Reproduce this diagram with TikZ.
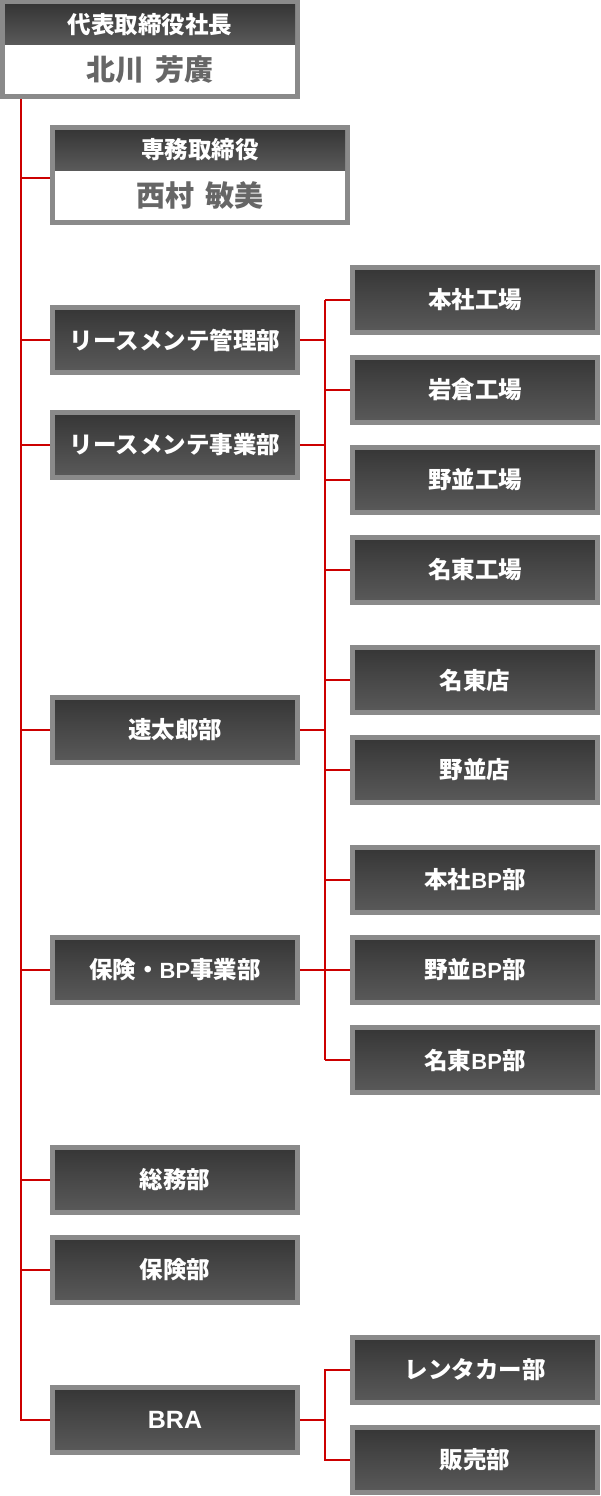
\documentclass[tikz,border=0pt]{standalone}
\usepackage{fontspec}
\setmainfont{Noto Sans CJK JP}
\newfontfamily\latn{Liberation Sans}
\newcommand{\LatinText}[2]{{\latn\fontsize{#1}{#1}\selectfont #2}}
\definecolor{linered}{HTML}{CC0000}
\definecolor{framegray}{HTML}{8A8A8A}
\definecolor{gtop}{HTML}{363636}
\definecolor{gbot}{HTML}{5A5A5A}
\definecolor{namegray}{HTML}{666666}
\begin{document}
\begin{tikzpicture}[x=1pt,y=-1pt,
  dept/.style={draw=framegray, line width=5pt, top color=gtop, bottom color=gbot,
    minimum width=245pt, minimum height=65pt, inner sep=0pt, text=white,
    font=\bfseries\fontsize{23.5}{26}\selectfont},
  exec/.style={draw=framegray, line width=5pt, fill=white, inner sep=0pt},
  hdr/.style={top color=gtop, bottom color=gbot, minimum width=290pt, minimum height=40pt,
    inner sep=0pt, text=white, font=\bfseries\fontsize{23.5}{26}\selectfont},
  pname/.style={inner sep=0pt, text=namegray, font=\bfseries\fontsize{29}{32}\selectfont},
  link/.style={draw=linered, line width=2pt},
]
\useasboundingbox (0,0) rectangle (600,1496);

% executives
\node[exec, minimum width=295pt, minimum height=94pt] (pres) at (150,49.5) {};
\node[hdr] (presh) at (150,25) {代表取締役社長};
\node[pname] (presn) at (150,70) {北川\hspace{0.4em}芳廣};

\node[exec, minimum width=295pt, minimum height=95pt] (vp) at (200,175) {};
\node[hdr] (vph) at (200,150) {専務取締役};
\node[pname] (vpn) at (200,195) {西村\hspace{0.4em}敏美};

% departments
\node[dept] (kanri) at (175,340) {リースメンテ管理部};
\node[dept] (jigyo) at (175,445) {リースメンテ事業部};
\node[dept] (hayata) at (175,730) {速太郎部};
\node[dept] (hokenbp) at (175,970) {保険・\LatinText{22}{BP}事業部};
\node[dept] (somu) at (175,1180) {総務部};
\node[dept] (hoken) at (175,1270) {保険部};
\node[dept] (bra) at (175,1420) {\LatinText{25}{BRA}};

% sub units
\node[dept] (honsha) at (475,300) {本社工場};
\node[dept] (iwakura) at (475,390) {岩倉工場};
\node[dept] (nonami) at (475,480) {野並工場};
\node[dept] (meito) at (475,570) {名東工場};
\node[dept] (meitoten) at (475,680) {名東店};
\node[dept] (nonamiten) at (475,770) {野並店};
\node[dept] (honshabp) at (475,880) {本社\LatinText{22}{BP}部};
\node[dept] (nonamibp) at (475,970) {野並\LatinText{22}{BP}部};
\node[dept] (meitobp) at (475,1060) {名東\LatinText{22}{BP}部};
\node[dept] (rental) at (475,1370) {レンタカー部};
\node[dept] (hanbai) at (475,1460) {販売部};

% trunk
\coordinate (t0) at ([xshift=21pt]pres.south west);
\draw[link] (t0) -- (t0 |- bra.west) -- (bra.west);
\draw[link] ([yshift=-3pt]vp.west) -- ([yshift=-3pt]vp.west -| t0);
\foreach \n in {kanri,jigyo,hayata,hokenbp,somu,hoken}
  \draw[link] (\n.west) -- (\n.west -| t0);

% right branch
\coordinate (rx) at (325,0);
\draw[link] (honsha.west -| rx) -- (meitobp.west -| rx);
\foreach \n in {kanri,jigyo,hayata,hokenbp}
  \draw[link] (\n.east) -- (\n.east -| rx);
\foreach \n in {honsha,iwakura,nonami,meito,meitoten,nonamiten,honshabp,nonamibp,meitobp}
  \draw[link] (\n.west) -- (\n.west -| rx);

% BRA branch
\draw[link] (rental.west) -- (rental.west -| rx) -- (hanbai.west -| rx) -- (hanbai.west);
\draw[link] (bra.east) -- (bra.east -| rx);
\end{tikzpicture}
\end{document}
